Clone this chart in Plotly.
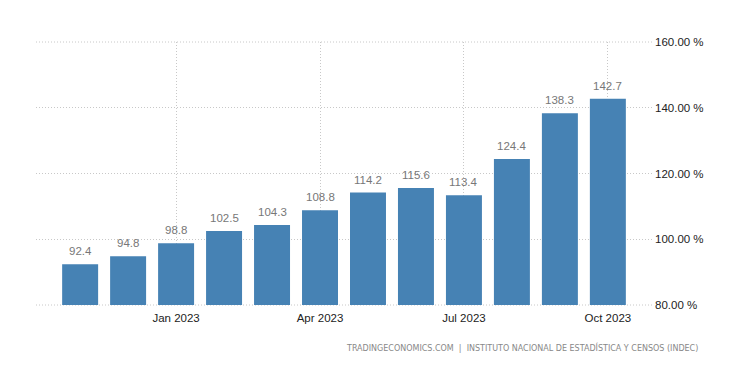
import plotly.graph_objects as go

months = ["Nov 2022", "Dec 2022", "Jan 2023", "Feb 2023", "Mar 2023", "Apr 2023",
          "May 2023", "Jun 2023", "Jul 2023", "Aug 2023", "Sep 2023", "Oct 2023"]
values = [92.4, 94.8, 98.8, 102.5, 104.3, 108.8, 114.2, 115.6, 113.4, 124.4, 138.3, 142.7]
x_ticks = ["Jan 2023", "Apr 2023", "Jul 2023", "Oct 2023"]
y_ticks = [80, 100, 120, 140, 160]
y_labels = [f"{v:.2f} %" for v in y_ticks]
source = "TRADINGECONOMICS.COM  |  INSTITUTO NACIONAL DE ESTADÍSTICA Y CENSOS (INDEC)"

grid_color = "#c8c8c8"
grid_dash = "1px,2px"

fig = go.Figure(go.Bar(
    x=months, y=values, width=0.75,
    marker=dict(color="#4682B4", line=dict(width=0)),
    cliponaxis=False,
))

# value labels above bars
value_labels = [dict(x=m, y=v, xref="x", yref="y", text=f"{v:.1f}", showarrow=False,
                     yanchor="bottom", xanchor="center", yshift=5,
                     font=dict(color="#777777", size=11.5, family="Liberation Sans"))
                for m, v in zip(months, values)]

# edge gridlines (Plotly hides gridlines that sit exactly on the plot edges)
edge_shapes = [dict(type="line", xref="paper", yref="paper", x0=0, x1=1, y0=p, y1=p,
                    line=dict(color=grid_color, width=1, dash=grid_dash), layer="below")
               for p in (0, 1)]

fig.update_layout(
    width=745, height=366,
    margin=dict(l=28, r=101, t=34, b=69),
    paper_bgcolor="white", plot_bgcolor="white",
    showlegend=False,
    font=dict(family="Liberation Sans", size=11, color="#333333"),
    xaxis=dict(type="category", range=[-0.92, 11.92], tickmode="array",
               tickvals=x_ticks, ticktext=x_ticks, showgrid=True,
               gridcolor=grid_color, griddash=grid_dash, gridwidth=1,
               showline=False, zeroline=False, ticks="", ticklabelstandoff=4,
               tickfont=dict(size=11.5, color="#222222")),
    yaxis=dict(range=[y_ticks[0], y_ticks[-1]], side="right", tickmode="array",
               tickvals=y_ticks, ticktext=y_labels, showgrid=True,
               gridcolor=grid_color, griddash=grid_dash, gridwidth=1,
               zeroline=False, showline=False, ticks="", ticklabelstandoff=2,
               tickfont=dict(size=11.5, color="#222222")),
    shapes=edge_shapes,
    annotations=value_labels + [dict(text=source, xref="paper", yref="paper",
                      x=1.078, y=-0.16, xanchor="right", yanchor="middle",
                      showarrow=False,
                      font=dict(size=8, color="#888888", family="DejaVu Sans"))],
)

fig.write_html("out.html")
